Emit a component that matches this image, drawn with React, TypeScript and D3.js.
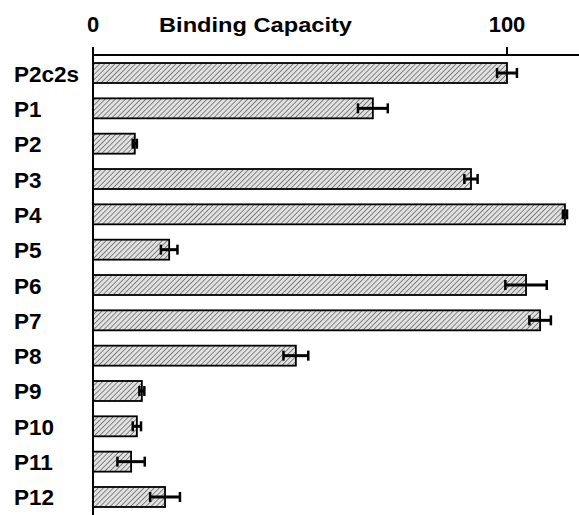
import React, { useEffect } from 'react';
import * as d3 from 'd3';

// values
const labels = ['P2c2s', 'P1', 'P2', 'P3', 'P4', 'P5', 'P6', 'P7', 'P8', 'P9', 'P10', 'P11', 'P12'];
const capacity = [100, 67.6, 10.1, 91.3, 114, 18.4, 104.6, 108, 49, 11.8, 10.6, 9.2, 17.4];
const errors = [2.4, 3.6, 0.5, 1.6, 0.5, 2, 5, 2.6, 3, 0.6, 1, 3.3, 3.6];
const ticks = [0, 100];

const width = 579;
const height = 515;
const margin = { top: 55, left: 93 };

const App = () => {
  useEffect(() => {
    document.body.style.margin = '0';
  }, []);

  const x = d3.scaleLinear().domain([0, 100]).range([margin.left, 507]);
  const y = d3.scaleBand<string>()
    .domain(labels)
    .range([margin.top, height])
    .paddingInner(0.434)
    .paddingOuter(0.227);

  const font = 'Liberation Sans, Arial, sans-serif';

  return (
    <svg width={width} height={height} style={{ display: 'block', background: '#fff' }}>
      <defs>
        <pattern id="hatch" width="3.6" height="3.6" patternUnits="userSpaceOnUse" patternTransform="rotate(45)">
          <rect width="3.6" height="3.6" fill="#e2e2e2" />
          <line x1="0" y1="0" x2="0" y2="3.6" stroke="#777" strokeWidth="1.8" />
        </pattern>
      </defs>

      {/* top axis */}
      <line x1={margin.left} x2={width} y1={margin.top} y2={margin.top} stroke="#000" strokeWidth={2} />
      {ticks.map(t => (
        <g key={t}>
          <line x1={x(t)} x2={x(t)} y1={margin.top} y2={margin.top - 8} stroke="#000" strokeWidth={2} />
          <text x={x(t)} y={32} textAnchor="middle" fontFamily={font} fontWeight="bold" fontSize={22}>{t}</text>
        </g>
      ))}
      <text x={159} y={32} fontFamily={font} fontWeight="bold" fontSize={21}
        textLength={193} lengthAdjust="spacingAndGlyphs">Binding Capacity</text>

      {/* bars */}
      {labels.map((l, i) => {
        const y0 = y(l)!;
        const bw = y.bandwidth();
        const cy = y0 + bw / 2;
        const xe = x(capacity[i]);
        const lo = x(capacity[i] - errors[i]);
        const hi = x(capacity[i] + errors[i]);
        return (
          <g key={l}>
            <rect x={x(0)} y={y0} width={xe - x(0)} height={bw} fill="url(#hatch)" stroke="#000" strokeWidth={1.8} />
            <line x1={lo} x2={hi} y1={cy} y2={cy} stroke="#000" strokeWidth={3} />
            <line x1={lo} x2={lo} y1={cy - 5} y2={cy + 5} stroke="#000" strokeWidth={2.5} />
            <line x1={hi} x2={hi} y1={cy - 5} y2={cy + 5} stroke="#000" strokeWidth={2.5} />
            <text x={14} y={cy + 8.5} fontFamily={font} fontWeight="bold" fontSize={22.5}>{l}</text>
          </g>
        );
      })}

      {/* left axis */}
      <line x1={margin.left} x2={margin.left} y1={margin.top} y2={height} stroke="#000" strokeWidth={2} />
    </svg>
  );
};

export default App;
